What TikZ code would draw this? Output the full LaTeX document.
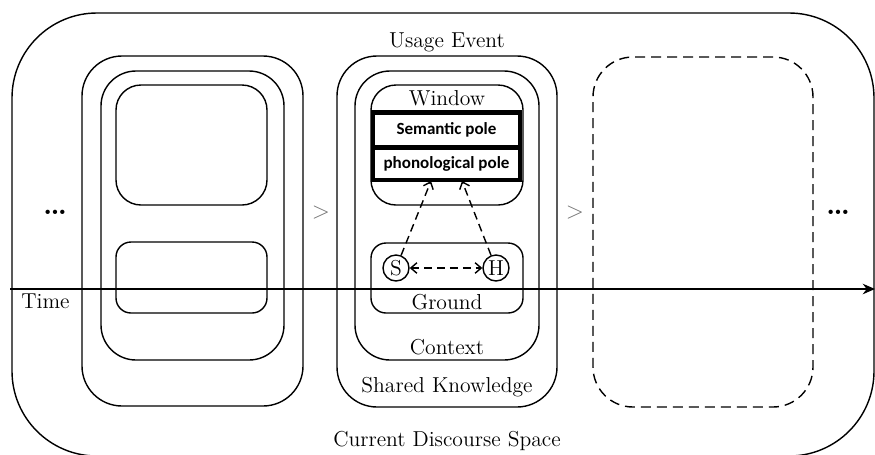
\documentclass[tikz,border=0pt]{standalone}
\usepackage{fontspec}
\newfontfamily\polefont{Carlito}
\usetikzlibrary{arrows.meta,fit}

\begin{document}
\begin{tikzpicture}[x=0.02cm,y=-0.02cm,
  frame/.style={draw, line width=0.8pt, rounded corners=#1, inner sep=0pt},
  dframe/.style={frame=#1, dash pattern=on 5.7pt off 3.4pt},
  pole/.style={draw, line width=2.5pt, inner sep=0pt},
  lbl/.style={font=\rmfamily\fontsize{12.3}{14}\selectfont, inner sep=0pt},
  polelbl/.style={font=\polefont\bfseries\fontsize{9.7}{11}\selectfont, inner sep=0pt},
  dots/.style={font=\rmfamily\bfseries\fontsize{17}{18}\selectfont, inner sep=0pt},
  gt/.style={font=\rmfamily\fontsize{13.5}{14}\selectfont, text=black!55, inner sep=0pt},
  person/.style={draw, circle, line width=0.8pt, minimum size=0.52cm, inner sep=0pt,
    font=\rmfamily\fontsize{12.3}{14}\selectfont},
  link/.style={line width=0.8pt, dash pattern=on 4.5pt off 2.8pt,
    arrows={-Straight Barb[length=3.5pt,width=6pt]}},
  axis/.style={line width=0.8pt, -{Stealth[length=7pt,width=6pt]}}
]
\useasboundingbox (0,0) rectangle (875,454);

% current discourse space
\node[frame=1.7cm, fit={(12,13) (874,456)}] (cds) {};

% previous usage event
\node[frame=0.8cm, fit={(82,56) (303,406)}] (prevSK) {};
\node[frame=0.7cm, fit={(101,71) (284,360)}] (prevCtx) {};
\node[frame=0.5cm, fit={(116,85) (267,205)}] (prevWin) {};
\node[frame=0.3cm, fit={(116,242) (267,313)}] (prevGround) {};

% current usage event
\node[frame=0.8cm, fit={(337,56) (557,407)}] (sk) {};
\node[frame=0.7cm, fit={(355,71) (539,360)}] (ctx) {};
\node[frame=0.5cm, fit={(371,85) (523,205)}] (win) {};
\node[frame=0.3cm, fit={(371,243) (523,313)}] (ground) {};
\node[pole, fit={(373,112.5) (520,147.5)}] (sem) {};
\node[pole, fit={(373,147.5) (520,180)}] (phon) {};
\node[polelbl] (semL) at (sem) {Semantic pole};
\node[polelbl] (phonL) at (phon) {phonological pole};

% next usage event
\node[dframe=0.8cm, fit={(593,57) (813,407)}] (next) {};

% labels
\node[lbl] (ueL) at (447,42) {Usage Event};
\node[lbl] (winL) at (447,98) {Window};
\node[lbl] (groundL) at (447,302) {Ground};
\node[lbl] (ctxL) at (447,347) {Context};
\node[lbl] (skL) at (447,387) {Shared Knowledge};
\node[lbl] (cdsL) at (447,441) {Current Discourse Space};
\node[lbl, anchor=west] (timeL) at (21,301) {Time};

\node[dots] (dotsL) at (55,212) {\dots};
\node[dots] (dotsR) at (838,212) {\dots};
\node[gt] (gtL) at (321,213) {>};
\node[gt] (gtR) at (575,213) {>};

% speaker and hearer
\node[person] (S) at (396,268) {S};
\node[person] (H) at (496,268) {H};
\coordinate (pS) at (431,181);
\coordinate (pH) at (462,181);
\draw[link] (S) -- (pS);
\draw[link] (H) -- (pH);
\draw[link, arrows={Straight Barb[length=3.5pt,width=6pt]-Straight Barb[length=3.5pt,width=6pt]}] (S) -- (H);

% time axis
\coordinate (t0) at (10,289);
\coordinate (t1) at (875,289);
\draw[axis] (t0) -- (t1);
\end{tikzpicture}
\end{document}
